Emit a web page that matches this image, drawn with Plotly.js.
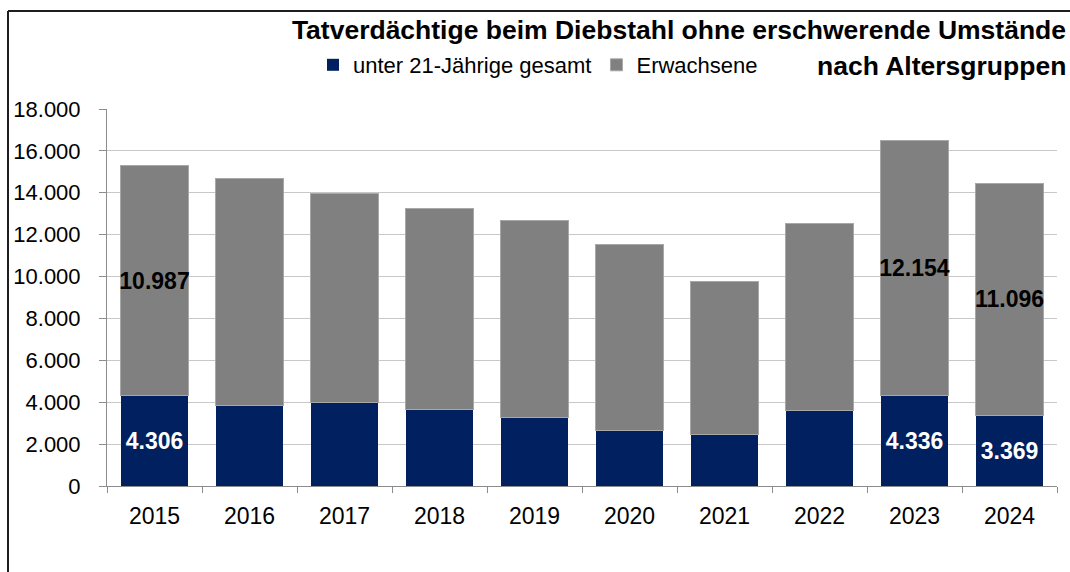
<!DOCTYPE html>
<html>
<head>
<meta charset="utf-8">
<script src="https://cdn.plot.ly/plotly-3.0.1.min.js"></script>
<style>
  html, body { margin: 0; padding: 0; background: #ffffff; }
  #chart { width: 1070px; height: 572px; }
</style>
</head>
<body>
<div id="chart"></div>
<script>
// ---- data ----
const years = ['2015', '2016', '2017', '2018', '2019', '2020', '2021', '2022', '2023', '2024'];
const under21 = [4306, 3820, 3990, 3630, 3290, 2660, 2460, 3610, 4336, 3369];
const adults  = [10987, 10850, 9990, 9640, 9410, 8860, 7290, 8910, 12154, 11096];
const labelled = [true, false, false, false, false, false, false, false, true, true];
const seriesNames = ['unter 21-Jährige gesamt', 'Erwachsene'];
const titleLine1 = 'Tatverdächtige beim Diebstahl ohne erschwerende Umstände';
const titleLine2 = 'nach Altersgruppen';

const FONT = 'Liberation Sans, Arial, Helvetica, sans-serif';
const tmpl = labelled.map(v => v ? '%{y:,.0f}' : '');

const traces = [
  {
    type: 'bar', name: seriesNames[0], x: years, y: under21,
    marker: { color: '#00205f', line: { width: 0 } },
    texttemplate: tmpl, textposition: 'inside', insidetextanchor: 'middle',
    textangle: 0, constraintext: 'none',
    textfont: { family: FONT, size: 23, color: '#ffffff', weight: 'bold' },
    hoverinfo: 'x+y'
  },
  {
    type: 'bar', name: seriesNames[1], x: years, y: adults,
    marker: { color: '#808080', line: { color: '#a8a8a8', width: 1 } },
    texttemplate: tmpl, textposition: 'inside', insidetextanchor: 'middle',
    textangle: 0, constraintext: 'none',
    textfont: { family: FONT, size: 23, color: '#000000', weight: 'bold' },
    hoverinfo: 'x+y'
  }
];

// pixel helpers for layout placement (plot area: x 107..1057, y 109..486)
const L = 107, R = 1057, T = 109, B = 486;
const px = p => (p - L) / (R - L);
const py = p => (B - p) / (B - T);

const layout = {
  width: 1070, height: 572,
  margin: { l: L, r: 1070 - R, t: T, b: 572 - B, pad: 0 },
  paper_bgcolor: '#ffffff', plot_bgcolor: '#ffffff',
  font: { family: FONT, color: '#000000', size: 22 },
  separators: ',.',
  barmode: 'stack', bargap: 0.29,
  showlegend: true,
  title: {
    text: '<b>' + titleLine1 + '</b>',
    font: { family: FONT, size: 26.5, color: '#000000' },
    xref: 'container', yref: 'container',
    x: 1066 / 1070, xanchor: 'right',
    y: 1 - 30 / 572, yanchor: 'middle'
  },
  annotations: [{
    text: '<b>' + titleLine2 + '</b>', showarrow: false,
    xref: 'paper', yref: 'paper', x: px(1068), y: py(66),
    xanchor: 'right', yanchor: 'middle',
    font: { family: FONT, size: 26.5, color: '#000000' }
  }],
  legend: {
    orientation: 'h', x: px(313), xanchor: 'left', y: py(65), yanchor: 'middle',
    font: { family: FONT, size: 22, color: '#000000' },
    bgcolor: 'rgba(0,0,0,0)', itemwidth: 30, traceorder: 'normal'
  },
  xaxis: {
    type: 'category', tickson: 'boundaries', ticks: 'outside', ticklen: 6,
    tickcolor: '#8c8c8c', tickwidth: 1,
    showline: true, linecolor: '#8c8c8c', linewidth: 1,
    showgrid: false, zeroline: false,
    tickfont: { family: FONT, size: 23, color: '#000000' },
    ticklabelstandoff: 9, fixedrange: true
  },
  yaxis: {
    range: [0, 18000], dtick: 2000, tick0: 0, tickformat: ',d',
    ticks: 'outside', ticklen: 7, tickcolor: '#8c8c8c', tickwidth: 1,
    showline: true, linecolor: '#8c8c8c', linewidth: 1,
    showgrid: true, gridcolor: '#c8c8c8', gridwidth: 1, zeroline: false,
    tickfont: { family: FONT, size: 22, color: '#000000' },
    ticklabelstandoff: 14, fixedrange: true
  },
  shapes: [
    { type: 'line', xref: 'paper', yref: 'paper', x0: px(8), x1: px(1085), y0: py(11), y1: py(11),
      line: { color: '#1e1e1e', width: 2 } },
    { type: 'line', xref: 'paper', yref: 'paper', x0: px(8), x1: px(8), y0: py(11), y1: py(590),
      line: { color: '#1e1e1e', width: 2 } }
  ]
};

Plotly.newPlot('chart', traces, layout, { displayModeBar: false, staticPlot: true });
</script>
</body>
</html>
